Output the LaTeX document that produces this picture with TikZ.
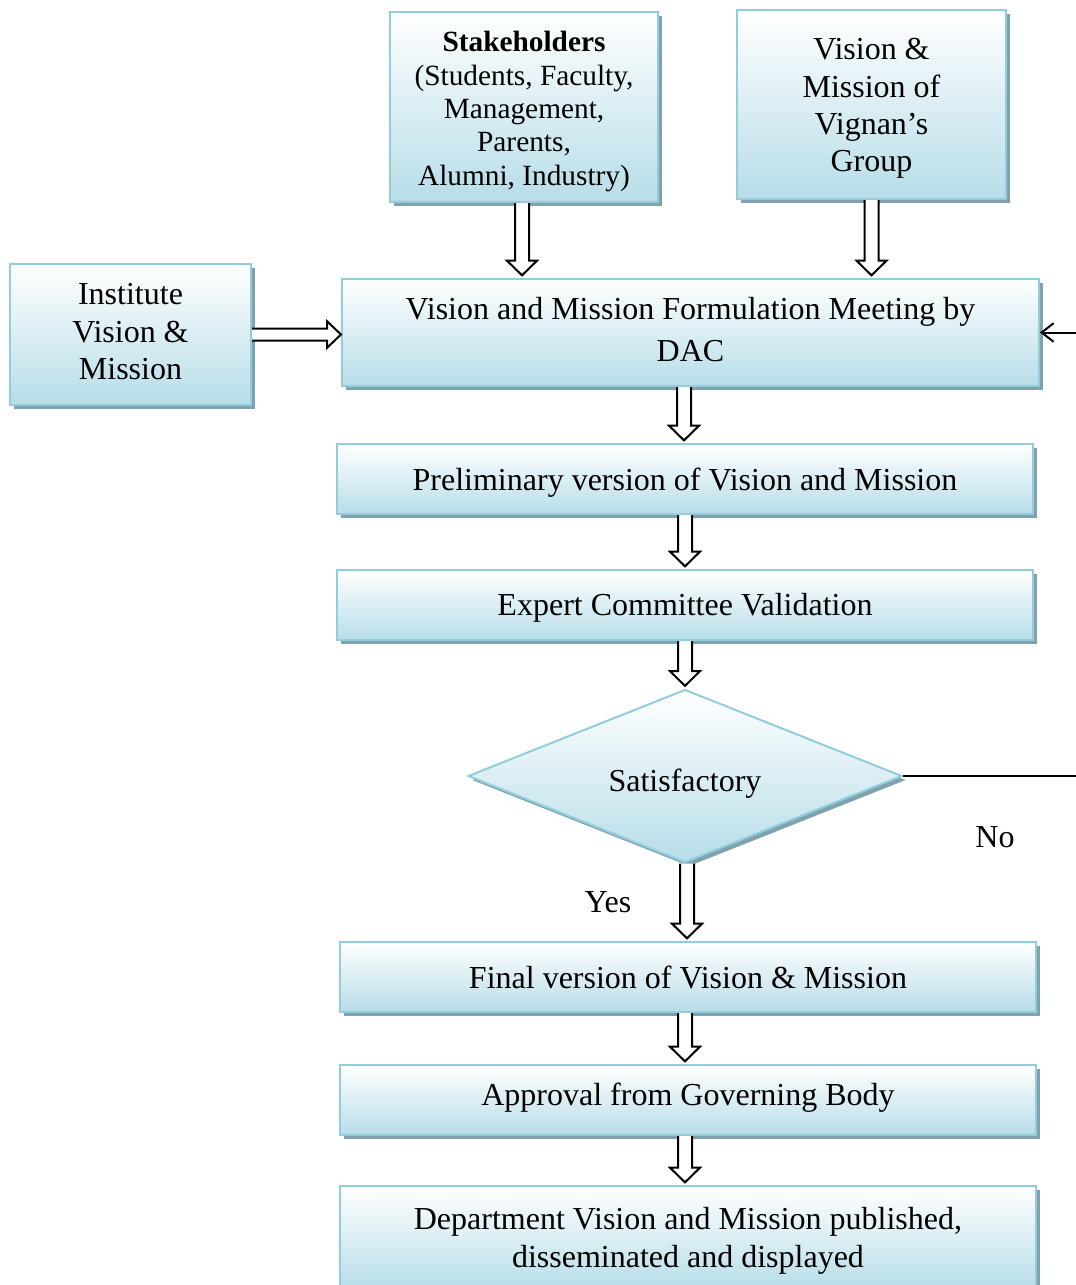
\documentclass[tikz,border=0pt]{standalone}
\usepackage{fontspec}
\setmainfont{Liberation Serif}
\usetikzlibrary{shapes.geometric,shadows,arrows.meta,calc}
\definecolor{bord}{RGB}{146,205,220}
\definecolor{shbot}{RGB}{183,221,232}
\definecolor{shad}{RGB}{128,162,176}
\tikzset{
  box/.style={draw=bord, line width=1.5pt, top color=white, bottom color=shbot,
    align=center, font=\fontsize{24}{28}\selectfont, inner sep=2pt,
    drop shadow={shadow xshift=3pt, shadow yshift=-3pt, fill=shad, opacity=1}},
  blockarrow/.style={draw=black, line width=1.5pt, fill=white, line join=miter},
  lab/.style={font=\fontsize{24}{28}\selectfont},
  thinline/.style={draw=black, line width=1.5pt}
}
% #1 source, #2 target, #3 horizontal offset from source centre
\newcommand\vblockarrow[3]{%
  \draw[blockarrow] let \p1=($(#1.south)+(#3,0)$), \p2=(#2.north) in
    (\x1-5.25pt,\y1) -- (\x1-5.25pt,\y2+13pt) -- (\x1-11.25pt,\y2+13pt) --
    (\x1,\y2+2pt) -- (\x1+11.25pt,\y2+13pt) -- (\x1+5.25pt,\y2+13pt) --
    (\x1+5.25pt,\y1);}
\newcommand\hblockarrow[2]{%
  \draw[blockarrow] let \p1=(#1.east), \p2=(#2.west) in
    (\x1,\y1+4.5pt) -- (\x2-10.5pt,\y1+4.5pt) -- (\x2-10.5pt,\y1+10pt) --
    (\x2,\y1) -- (\x2-10.5pt,\y1-10pt) -- (\x2-10.5pt,\y1-4.5pt) --
    (\x1,\y1-4.5pt);}
\begin{document}
\begin{tikzpicture}[x=0.75pt,y=-0.75pt]
\useasboundingbox (0,0) rectangle (1075,1285);
\node[box, minimum width=201pt, minimum height=142.5pt,
      font=\fontsize{22}{25}\selectfont] (stake) at (524,107)
  {\rule{0pt}{22pt}\textbf{Stakeholders}\\(Students, Faculty,\\Management,\\Parents,\\Alumni, Industry)};
\node[box, minimum width=201.75pt, minimum height=141.75pt] (vign) at (871.5,104.5)
  {\rule{0pt}{22pt}Vision \&\\Mission of\\Vignan’s\\Group};
\node[box, minimum width=180.75pt, minimum height=105.75pt] (inst) at (130.5,334.5)
  {Institute\\Vision \&\\Mission\rule[-4.5pt]{0pt}{1pt}};
\node[box, minimum width=522.75pt, minimum height=80.25pt,
      font=\fontsize{24}{31.5}\selectfont] (dac) at (690.5,332.5)
  {Vision and Mission Formulation Meeting by\\DAC\rule[-4.5pt]{0pt}{1pt}};
\node[box, minimum width=522pt, minimum height=52.5pt, text height=22pt] (prel) at (685,479)
  {Preliminary version of Vision and Mission};
\node[box, minimum width=522pt, minimum height=52.5pt, text height=21pt] (expt) at (685,605)
  {Expert Committee Validation};
\node[box, diamond, shape aspect=2.5, minimum width=325.5pt, minimum height=129.75pt,
      text height=29pt] (sat) at (685,776)
  {Satisfactory};
\node[box, minimum width=522pt, minimum height=52.5pt] (fin) at (688,977)
  {Final version of Vision \& Mission};
\node[box, minimum width=522pt, minimum height=52.5pt, text height=14pt] (appr) at (688,1100)
  {Approval from Governing Body};
\node[box, minimum width=522pt, minimum height=78pt] (dept) at (688,1238)
  {\rule{0pt}{21pt}Department Vision and Mission published,\\disseminated and displayed};
\node[lab] (yes) at (608,902) {Yes};
\node[lab] (no) at (995,837) {No};
\coordinate (fbR) at (1090,776);
\coordinate (inR) at (1090,332.5);
\vblockarrow{stake}{dac}{-2}
\vblockarrow{vign}{dac}{0}
\hblockarrow{inst}{dac}
\vblockarrow{dac}{prel}{-6.5}
\vblockarrow{prel}{expt}{0}
\vblockarrow{expt}{sat}{0}
\vblockarrow{sat}{fin}{2}
\vblockarrow{fin}{appr}{-3}
\vblockarrow{appr}{dept}{-3}
\draw[thinline] (sat.east) -- (fbR);
\draw[thinline, -{Straight Barb[length=9pt,width=14pt]}] (inR) -- (dac.east);
\end{tikzpicture}
\end{document}
